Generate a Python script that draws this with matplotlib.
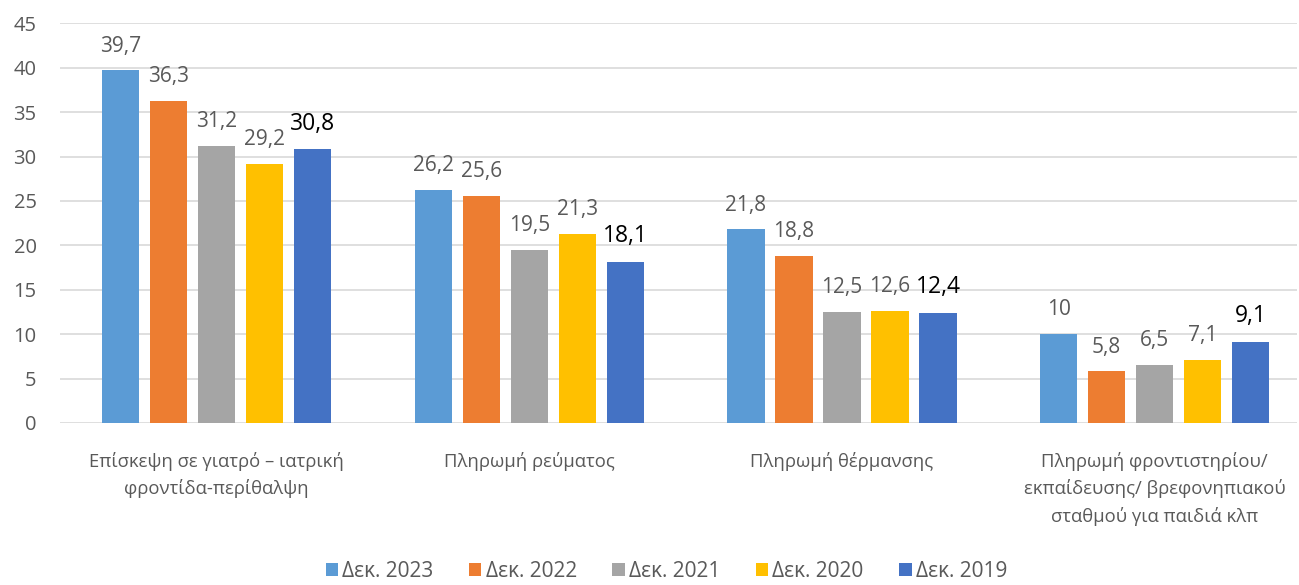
import matplotlib
matplotlib.use("Agg")
import matplotlib.pyplot as plt
import numpy as np

plt.rcParams["font.family"] = ["Open Sans", "DejaVu Sans"]

categories = [
    "Επίσκεψη σε γιατρό – ιατρική\nφροντίδα-περίθαλψη",
    "Πληρωμή ρεύματος",
    "Πληρωμή θέρμανσης",
    "Πληρωμή φροντιστηρίου/\nεκπαίδευσης/ βρεφονηπιακού\nσταθμού για παιδιά κλπ",
]
series_names = ["Δεκ. 2023", "Δεκ. 2022", "Δεκ. 2021", "Δεκ. 2020", "Δεκ. 2019"]
dec_2023 = [39.7, 26.2, 21.8, 10]
dec_2022 = [36.3, 25.6, 18.8, 5.8]
dec_2021 = [31.2, 19.5, 12.5, 6.5]
dec_2020 = [29.2, 21.3, 12.6, 7.1]
dec_2019 = [30.8, 18.1, 12.4, 9.1]
series = [dec_2023, dec_2022, dec_2021, dec_2020, dec_2019]
colors = ["#5B9BD5", "#ED7D31", "#A5A5A5", "#FFC000", "#4472C4"]
y_ticks = [0, 5, 10, 15, 20, 25, 30, 35, 40, 45]

GRAY = "#595959"


def fmt(v):
    s = f"{v:.1f}".replace(".", ",")
    return s[:-2] if s.endswith(",0") else s


fig = plt.figure(figsize=(12.99, 5.85), dpi=100)
ax = fig.add_axes([0.0464, 0.277, 0.952, 0.683])

x = np.arange(len(categories))
width = 0.12
pitch = 0.1535
for i, (vals, color, name) in enumerate(zip(series, colors, series_names)):
    pos = x + (i - 2) * pitch
    bars = ax.bar(pos, vals, width, color=color, label=name, zorder=3)
    last = i == len(series) - 1
    for bar, v in zip(bars, vals):
        ax.annotate(fmt(v), (bar.get_x() + bar.get_width() / 2, v),
                    xytext=(0, 10), textcoords="offset points",
                    ha="center", va="bottom",
                    fontsize=16.5 if last else 15,
                    color="black" if last else GRAY)

ax.set_ylim(0, 45)
ax.set_yticks(y_ticks)
ax.set_xlim(-0.5, 3.455)
ax.set_xticks(x)
ax.set_xticklabels(categories, fontsize=13.3, color=GRAY, va="top", linespacing=1.55)
ax.tick_params(axis="y", length=0, pad=17, labelsize=14.5, labelcolor=GRAY)
ax.tick_params(axis="x", length=0, pad=21)
ax.grid(axis="y", color="#D9D9D9", linewidth=1.2, zorder=0)
for side in ["top", "right", "left", "bottom"]:
    ax.spines[side].set_visible(False)

fig.legend(loc="lower center", bbox_to_anchor=(0.513, -0.027), ncol=5,
           frameon=False, fontsize=15, labelcolor=GRAY,
           handlelength=0.6, handleheight=0.6, handletextpad=0.2,
           columnspacing=1.7)

fig.savefig("out.png", dpi=100)
